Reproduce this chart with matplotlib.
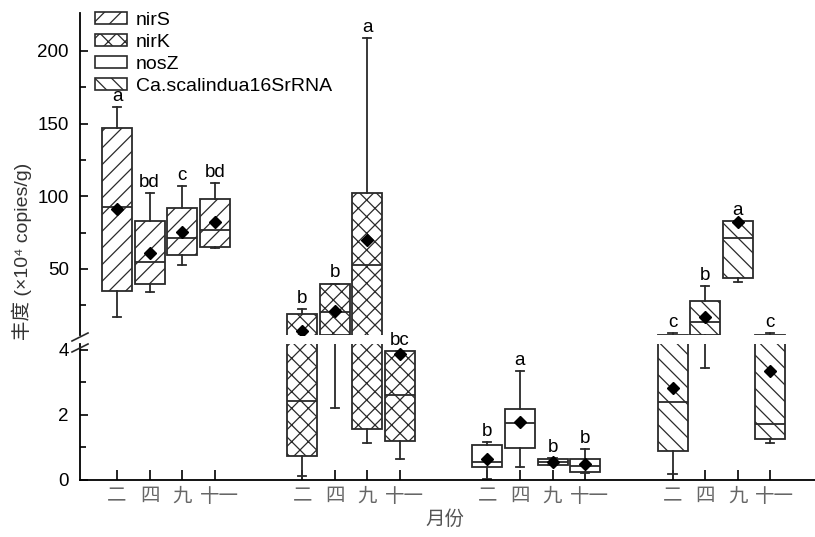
import matplotlib
matplotlib.use("Agg")
from matplotlib import pyplot as plt
from matplotlib.patches import Patch
from matplotlib.lines import Line2D
import matplotlib.transforms as mtransforms

plt.rcParams['font.family'] = ['Liberation Sans', 'Noto Sans CJK SC', 'DejaVu Sans']
plt.rcParams['hatch.linewidth'] = 0.9

genes = ['nirS', 'nirK', 'nosZ', 'Ca.scalindua16SrRNA']
months = ['二', '四', '九', '十一']
hatches = ['//', 'xx', '', '\\\\']

# box statistics, one row per gene, one column per month
whislo = [[17, 34, 53, 64.5], [0.12, 2.2, 1.14, 0.65], [0.03, 0.4, 0.45, 0.2], [0.18, 3.45, 41, 1.13]]
q1 = [[35, 40, 59.6, 65], [0.74, 4.9, 1.57, 1.2], [0.41, 0.98, 0.46, 0.25], [0.88, 4.9, 44, 1.27]]
med = [[92.7, 55, 71, 77], [2.43, 20.4, 53, 2.62], [0.55, 1.75, 0.55, 0.43], [2.41, 13.5, 71, 1.72]]
q3 = [[147, 83, 92, 98], [19, 40, 102, 3.97], [1.08, 2.18, 0.64, 0.65], [4.9, 28, 83, 4.9]]
whishi = [[161.5, 102, 107, 109], [22.5, 40, 209, 3.97], [1.17, 3.35, 0.67, 0.95], [6.0, 38, 83, 6.0]]
means = [[91, 61, 75.5, 82], [7.4, 20.8, 70, 3.88], [0.65, 1.78, 0.55, 0.5], [2.83, 17, 82, 3.35]]
letters = [['a', 'bd', 'c', 'bd'], ['b', 'b', 'a', 'bc'], ['b', 'a', 'b', 'b'], ['c', 'b', 'a', 'c']]

low_top = 4.18
high_bottom = 4.6
group_gap = 5.68

fig = plt.figure(figsize=(8.15, 5.37), dpi=100)
left, width = 80 / 815, 735 / 815
ax_hi = fig.add_axes([left, 1 - 335 / 537, width, (335 - 13) / 537])
ax_lo = fig.add_axes([left, 1 - 480 / 537, width, (480 - 344) / 537])

edge = '#2a2a2a'
positions = []
for g in range(len(genes)):
    stats = []
    pos = []
    for m in range(len(months)):
        stats.append(dict(whislo=whislo[g][m], q1=q1[g][m], med=med[g][m], q3=q3[g][m],
                          whishi=whishi[g][m], fliers=[]))
        pos.append(g * group_gap + m)
    positions += pos
    for ax in (ax_hi, ax_lo):
        bp = ax.bxp(stats, positions=pos, widths=0.92, capwidths=0.25, patch_artist=True,
                    manage_ticks=False,
                    boxprops=dict(facecolor='white', edgecolor=edge, linewidth=1.3),
                    medianprops=dict(color=edge, linewidth=1.3),
                    whiskerprops=dict(color=edge, linewidth=1.3),
                    capprops=dict(color=edge, linewidth=1.3))
        for box in bp['boxes']:
            box.set_hatch(hatches[g])
    for m in range(len(months)):
        # mean diamond goes into the panel holding its value
        ax = ax_hi if means[g][m] > high_bottom else ax_lo
        ax.plot(pos[m], means[g][m], marker='D', color='black', markersize=6, zorder=5)
        top = max(whishi[g][m], q3[g][m])
        ax = ax_hi if top > high_bottom else ax_lo
        ax.annotate(letters[g][m], (pos[m], top), xytext=(0, 1.5), textcoords='offset points',
                    ha='center', va='bottom', fontsize=13.5, annotation_clip=False)

for ax in (ax_hi, ax_lo):
    ax.set_xlim(-1.135, 21.41)
    ax.spines['top'].set_visible(False)
    ax.spines['right'].set_visible(False)
    ax.spines['left'].set_linewidth(1.3)
    ax.tick_params(axis='y', direction='in', length=6, width=1.2, labelsize=13.5, pad=8)
    ax.tick_params(axis='y', which='minor', direction='in', length=4, width=1.2)

ax_hi.spines['bottom'].set_visible(False)
ax_hi.set_ylim(high_bottom, 226)
ax_hi.set_yticks([50, 100, 150, 200])
ax_hi.set_yticks([25, 75, 125, 175], minor=True)
ax_hi.set_xticks([])

ax_lo.spines['bottom'].set_linewidth(1.3)
ax_lo.set_ylim(0, low_top)
ax_lo.set_yticks([0, 2, 4])
ax_lo.set_yticks([1, 3], minor=True)
ax_lo.set_xticks(positions)
ax_lo.set_xticklabels(months * len(genes), color='#666666', fontsize=14)
ax_lo.tick_params(axis='x', direction='in', length=7, width=1.2, pad=6)
shift = mtransforms.ScaledTranslation(4.5 / 100, 0, fig.dpi_scale_trans)
for lab in ax_lo.get_xticklabels():
    if lab.get_text() == '十一':
        lab.set_transform(lab.get_transform() + shift)

# break marks on the y axis
for y in (337, 348):
    fig.add_artist(Line2D([72 / 815, 88 / 815], [1 - (y + 4) / 537, 1 - (y - 4) / 537],
                          color=edge, linewidth=1.2))

fig.text(445 / 815, 1 - 520 / 537, '月份', ha='center', va='center', fontsize=14, color='#555555')
fig.text(22 / 815, 1 - 251 / 537, '丰度 (×10⁴ copies/g)', rotation=90, ha='center', va='center',
         fontsize=14, color='#333333')

handles = [Patch(facecolor='white', edgecolor=edge, hatch=h, linewidth=1.2) for h in hatches]
ax_hi.legend(handles, genes, loc='upper left', bbox_to_anchor=(95 / 815, 1 - 12 / 537),
             bbox_transform=fig.transFigure, frameon=False, fontsize=14, borderpad=0,
             handlelength=1.65, handleheight=0.55, handletextpad=0.45, labelspacing=0.25,
             borderaxespad=0)

fig.savefig('out.png', dpi=100)
